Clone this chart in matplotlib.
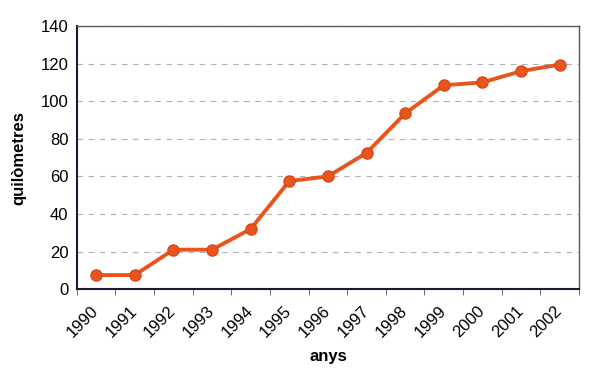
import matplotlib
matplotlib.use('Agg')
import matplotlib.pyplot as plt
import numpy as np

years = ['1990', '1991', '1992', '1993', '1994', '1995', '1996',
         '1997', '1998', '1999', '2000', '2001', '2002']
km = [7.5, 7.5, 21, 21, 32, 57.5, 60, 72.5, 93.5, 108.5, 110, 116, 119.5]

plt.rcParams['font.family'] = ['Liberation Sans', 'DejaVu Sans']

fig = plt.figure(figsize=(6, 3.83), dpi=100)
ax = fig.add_axes([0.128, 0.245, 0.837, 0.687])

x = np.arange(len(years))
ax.plot(x, km, color='#E8561E', lw=2.8, marker='o', ms=8,
        mfc='#E8561E', mec='#D9481A', mew=1, zorder=3)

ax.set_xlim(-0.5, len(years) - 0.5)
ax.set_ylim(0, 140)
ax.set_yticks(range(0, 141, 20))
ax.yaxis.grid(True, ls=(0, (5, 5)), color='#aeb0bc', lw=0.8)
ax.set_axisbelow(True)

# ticks between categories, labels at centres
ax.set_xticks(x)
ax.set_xticklabels(years, rotation=45, ha='right', va='center',
                   rotation_mode='anchor', fontsize=12)
ax.set_xticks(np.arange(-0.5, len(years)), minor=True)
ax.tick_params(axis='x', which='major', length=0, pad=14)
ax.tick_params(axis='x', which='minor', length=4, color='#555566')
ax.tick_params(axis='y', length=0, labelsize=12, pad=6)

for s in ['left', 'bottom']:
    ax.spines[s].set_color('#1a1a2e')
    ax.spines[s].set_linewidth(1.5)
for s in ['top', 'right']:
    ax.spines[s].set_color('#555566')
    ax.spines[s].set_linewidth(1)

ax.set_xlabel('anys', fontweight='bold', fontsize=12, labelpad=6)
ax.set_ylabel('quilòmetres', fontweight='bold', fontsize=12, labelpad=10)

fig.savefig('out.png', dpi=100)
